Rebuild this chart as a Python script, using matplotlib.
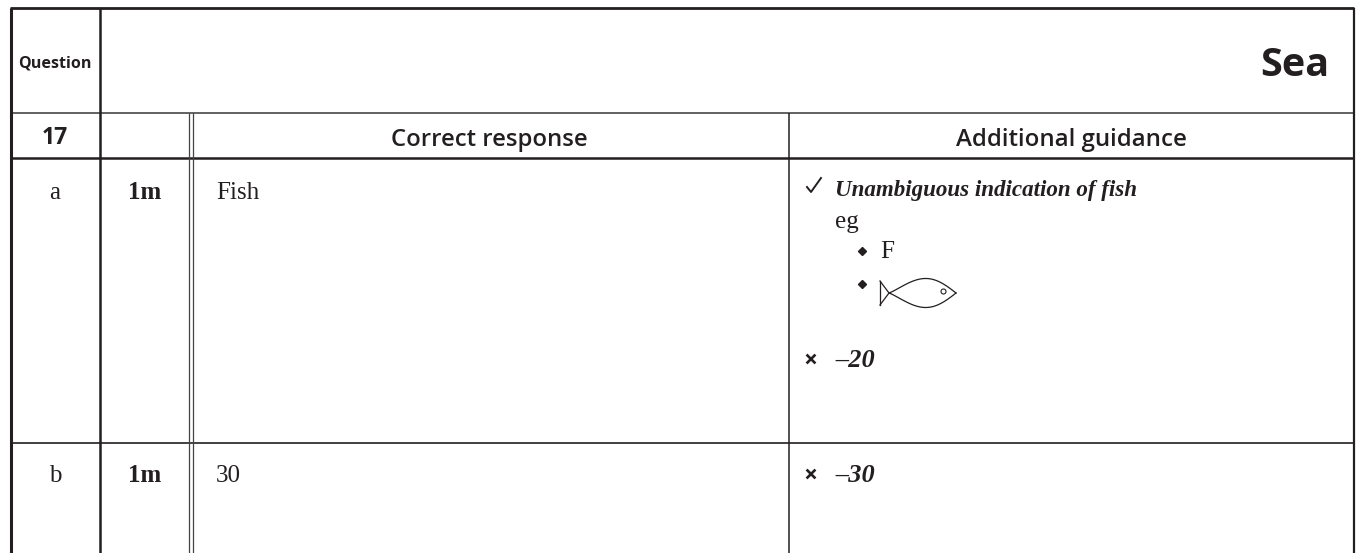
import numpy as np
import matplotlib
matplotlib.use("Agg")
import matplotlib.pyplot as plt

INK = "#231f20"
SANS = "Open Sans"
SERIF = "Liberation Serif"

headers = ["Question", "17", "Correct response", "Additional guidance"]
title = "Sea"
parts = ["a", "b"]
marks = ["1m", "1m"]
responses = ["Fish", "30"]
guidance_a = ["Unambiguous indication of fish", "eg", "F", "\u201320"]
guidance_b = "\u201330"


def hline(ax, y, x0=10, x1=1354, lw=1.5, color=INK):
    ax.plot([x0, x1], [y, y], color=color, lw=lw, solid_capstyle="butt")


def vline(ax, x, y0, y1=553, lw=1.5, color=INK):
    ax.plot([x, x], [y0, y1], color=color, lw=lw, solid_capstyle="butt")


def draw_cross(ax, x, y):
    ax.plot([x - 3.5, x + 3.5], [y - 3.5, y + 3.5], color=INK, lw=1.9)
    ax.plot([x - 3.5, x + 3.5], [y + 3.5, y - 3.5], color=INK, lw=1.9)


def draw_tick(ax, x, y):
    ax.plot([x - 7, x - 3, x + 7], [y + 1, y + 6, y - 8], color=INK, lw=1.4)


def draw_fish(ax):
    # body is a lens, its two curves run on past the nose-side crossing to make the tail
    bx = np.linspace(889, 956, 80)
    s = (bx - 889) / 67
    half = 14.5 * np.sin(np.pi * s ** 1.15)
    ax.plot(np.r_[880, bx], np.r_[305, 293 - half], color=INK, lw=0.9)
    ax.plot(np.r_[880, bx], np.r_[281, 293 + half], color=INK, lw=0.9)
    ax.plot([880, 880], [281, 305], color=INK, lw=0.9)
    ax.plot([943], [291], "o", ms=3.6, mfc="white", mec=INK, mew=0.8)


fig = plt.figure(figsize=(13.62, 5.53), dpi=100)
ax = fig.add_axes([0, 0, 1, 1])
ax.set_xlim(0, 1362)
ax.set_ylim(553, 0)
ax.axis("off")

# table rules
hline(ax, 8, lw=2.0)
hline(ax, 112.5, lw=1.3, color="#555555")
hline(ax, 157.5, lw=1.8)
hline(ax, 442.5, lw=1.2)
vline(ax, 10.5, 8, lw=2.2)
vline(ax, 100, 8, lw=1.8)
vline(ax, 188.5, 113, lw=0.9, color="#444444")
vline(ax, 192.5, 113, lw=0.9, color="#444444")
vline(ax, 788.5, 113, lw=1.1)
vline(ax, 1354, 8, 553, lw=1.6)

# header rows
ax.text(55, 63.5, headers[0], ha="center", va="center", family=SANS, weight="bold", fontsize=11.6, color=INK)
ax.text(55, 138, headers[1], ha="center", va="center", family=SANS, weight="bold", fontsize=16.5, color=INK)
ax.text(489, 140, headers[2], ha="center", va="center", family=SANS, weight="semibold", fontsize=17.2, color=INK)
ax.text(1071, 140, headers[3], ha="center", va="center", family=SANS, weight="semibold", fontsize=17.3, color=INK)
ax.text(1329, 65, title, ha="right", va="center", family=SANS, weight="bold", fontsize=28.5, color=INK)

# answer rows
for y, part, mark, resp in zip([199, 482], parts, marks, responses):
    ax.text(55, y, part, ha="center", va="baseline", family=SERIF, fontsize=18, color=INK)
    ax.text(145, y, mark, ha="center", va="baseline", family=SERIF, weight="bold", fontsize=18, color=INK)
    ax.text(216, y, resp, ha="left", va="baseline", family=SERIF, fontsize=18, color=INK)

# guidance for part a
draw_tick(ax, 814, 186)
ax.text(835, 196, guidance_a[0], ha="left", va="baseline", family=SERIF, style="italic", weight="bold", fontsize=16.6, color=INK)
ax.text(835, 228, guidance_a[1], ha="left", va="baseline", family=SERIF, fontsize=18, color=INK)
ax.plot([862], [251], "D", ms=3.6, color=INK)
ax.text(880, 258, guidance_a[2], ha="left", va="baseline", family=SERIF, fontsize=18, color=INK)
ax.plot([862], [284], "D", ms=3.6, color=INK)
draw_fish(ax)
draw_cross(ax, 811, 359)
ax.text(835, 367, guidance_a[3], ha="left", va="baseline", family=SERIF, style="italic", weight="bold", fontsize=19, color=INK)

# guidance for part b
draw_cross(ax, 811, 474)
ax.text(835, 482, guidance_b, ha="left", va="baseline", family=SERIF, style="italic", weight="bold", fontsize=19, color=INK)

fig.savefig("out.png", dpi=100, facecolor="white")
